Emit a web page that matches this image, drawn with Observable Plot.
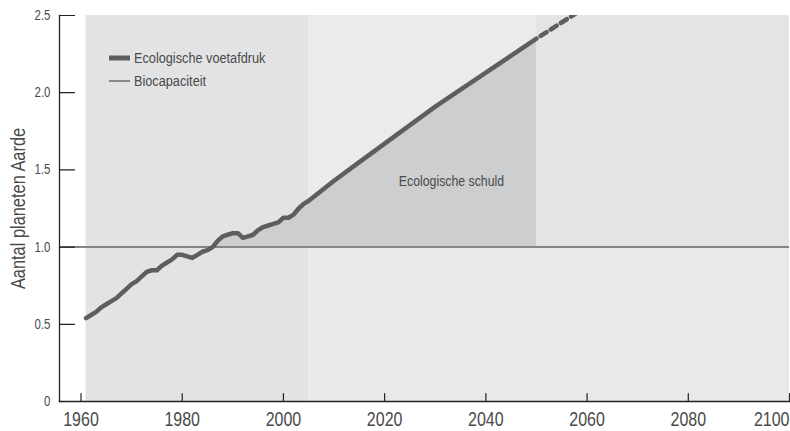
<!DOCTYPE html>
<html>
<head>
<meta charset="utf-8">
<script src="https://cdn.jsdelivr.net/npm/d3@7"></script>
<script src="https://cdn.jsdelivr.net/npm/@observablehq/plot@0.6"></script>
<style>
  html, body { margin: 0; padding: 0; background: #fff; }
  #wrap { position: relative; width: 790px; height: 431px; font-family: "Liberation Sans", Arial, sans-serif; }
  #legend { position: absolute; left: 109px; top: 46px; font-size: 15.5px; color: #4a4a4a; line-height: 23px; }
  #legend .row { display: flex; align-items: center; white-space: nowrap; height: 23px; }
  #legend svg { margin-right: 4px; flex: none; }
  #legend .lbl { display: inline-block; transform: scaleX(0.82); transform-origin: left center; }
</style>
</head>
<body>
<div id="wrap">
  <div id="chart"></div>
  <div id="legend">
    <div class="row"><svg width="21" height="10"><line x1="0" x2="21" y1="5" y2="5" stroke="#5e5e5e" stroke-width="5"/></svg><span class="lbl">Ecologische voetafdruk</span></div>
    <div class="row"><svg width="21" height="10"><line x1="0" x2="21" y1="5" y2="5" stroke="#8a8a8a" stroke-width="2"/></svg><span class="lbl">Biocapaciteit</span></div>
  </div>
</div>
<script>
// Historical ecological footprint (number of planet Earths)
const years = [1961,1962,1963,1964,1965,1966,1967,1968,1969,1970,1971,1972,1973,1974,1975,1976,1977,1978,1979,1980,1981,1982,1983,1984,1985,1986,1987,1988,1989,1990,1991,1992,1993,1994,1995,1996,1997,1998,1999,2000,2001,2002,2003,2004,2005];
const footprint = [0.54,0.56,0.58,0.61,0.63,0.65,0.67,0.70,0.73,0.76,0.78,0.81,0.84,0.85,0.85,0.88,0.90,0.92,0.95,0.95,0.94,0.93,0.95,0.97,0.98,1.00,1.04,1.07,1.08,1.09,1.09,1.06,1.07,1.08,1.11,1.13,1.14,1.15,1.16,1.19,1.19,1.21,1.25,1.28,1.30];
// Projection (business as usual)
const projYears = [2005,2010,2015,2020,2025,2030,2035,2040,2045,2050];
const projection = [1.30,1.43,1.55,1.67,1.79,1.91,2.02,2.13,2.24,2.35];
// Dashed continuation beyond 2050
const dashYears = [2050,2060];
const dashValues = [2.35,2.56];
// Biocapacity level
const biocapacity = 1.0;
// Period boundaries for background shading
const periods = [1961, 2005, 2050, 2100];
// Ticks
const xTicks = [1960,1980,2000,2020,2040,2060,2080,2100];
const yTicks = [0,0.5,1.0,1.5,2.0,2.5];
const debtLabel = [{year: 2033.2, value: 1.43, text: "Ecologische schuld"}];

const hist = years.map((y, i) => ({year: y, value: footprint[i]}));
const proj = projYears.map((y, i) => ({year: y, value: projection[i]}));
const full = hist.concat(proj.slice(1));
const dash = dashYears.map((y, i) => ({year: y, value: dashValues[i]}));
const debt = full.filter(d => d.year >= 1986);

const font = '"Liberation Sans", Arial, sans-serif';
const lineColor = "#5e5e5e";
const textColor = "#4a4a4a";

const chart = Plot.plot({
  width: 790,
  height: 431,
  marginLeft: 59,
  marginRight: 1,
  marginTop: 15,
  marginBottom: 30,
  style: {fontFamily: font, background: "transparent", color: textColor, overflow: "visible"},
  x: {domain: [1955.75, 2100], axis: null},
  y: {domain: [0, 2.5], axis: null},
  marks: [
    Plot.rect([0], {x1: periods[0], x2: periods[1], y1: 0, y2: 2.5, fill: "#e2e3e5"}),
    Plot.rect([0], {x1: periods[1], x2: periods[3], y1: 0, y2: biocapacity, fill: "#e9e9e9"}),
    Plot.rect([0], {x1: periods[1], x2: periods[2], y1: biocapacity, y2: 2.5, fill: "#ebebeb"}),
    Plot.rect([0], {x1: periods[2], x2: periods[3], y1: biocapacity, y2: 2.5, fill: "#e4e4e4"}),
    Plot.areaY(debt, {x: "year", y1: biocapacity, y2: "value", fill: "#cdced0"}),
    Plot.ruleY([biocapacity], {stroke: "#858585", strokeWidth: 2}),
    Plot.line(dash, {x: "year", y: "value", stroke: "#c9c9c9", strokeWidth: 1, clip: true}),
    Plot.line(dash, {x: "year", y: "value", stroke: lineColor, strokeWidth: 4.5, strokeDasharray: "7,5", strokeDashoffset: 7, clip: true}),
    Plot.line(full, {x: "year", y: "value", stroke: lineColor, strokeWidth: 4.5, strokeLinejoin: "round"}),
    Plot.text(debtLabel, {x: "year", y: "value", text: "text", fontSize: 15, fill: textColor}),
    // axis lines
    Plot.frame({anchor: "left", stroke: "#222", strokeWidth: 1.3}),
    Plot.frame({anchor: "bottom", stroke: "#222", strokeWidth: 1.3}),
    // inward ticks
    Plot.vector(yTicks, {y: d => d, frameAnchor: "left", rotate: 90, length: 15, r: 0, anchor: "start", stroke: "#222", strokeWidth: 1.2}),
    Plot.vector(xTicks, {x: d => d, frameAnchor: "bottom", rotate: 0, length: 8, r: 0, anchor: "start", stroke: "#222", strokeWidth: 1.2}),
    // tick labels
    Plot.axisY(yTicks, {tickSize: 0, tickPadding: 9, fontSize: 14, fill: textColor, tickFormat: d => d === 0 ? "0" : d.toFixed(1), label: null}),
    Plot.axisX(xTicks.filter(t => t < 2100), {tickSize: 0, tickPadding: 11, fontSize: 19.5, fill: textColor, tickFormat: d => String(d), label: null}),
    Plot.axisX([2100], {tickSize: 0, tickPadding: 11, fontSize: 19.5, fill: textColor, textAnchor: "end", tickFormat: d => String(d), label: null}),
    Plot.text(["Aantal planeten Aarde"], {frameAnchor: "left", textAnchor: "middle", dx: -41, rotate: -90, fontSize: 20, fill: textColor, text: d => d})
  ]
});
// condense all texts horizontally (narrow typeface look)
chart.querySelectorAll("text").forEach(t => {
  const tr = t.getAttribute("transform") || "";
  t.setAttribute("transform", (tr + " scale(0.82,1)").trim());
});
document.getElementById("chart").appendChild(chart);
</script>
</body>
</html>
